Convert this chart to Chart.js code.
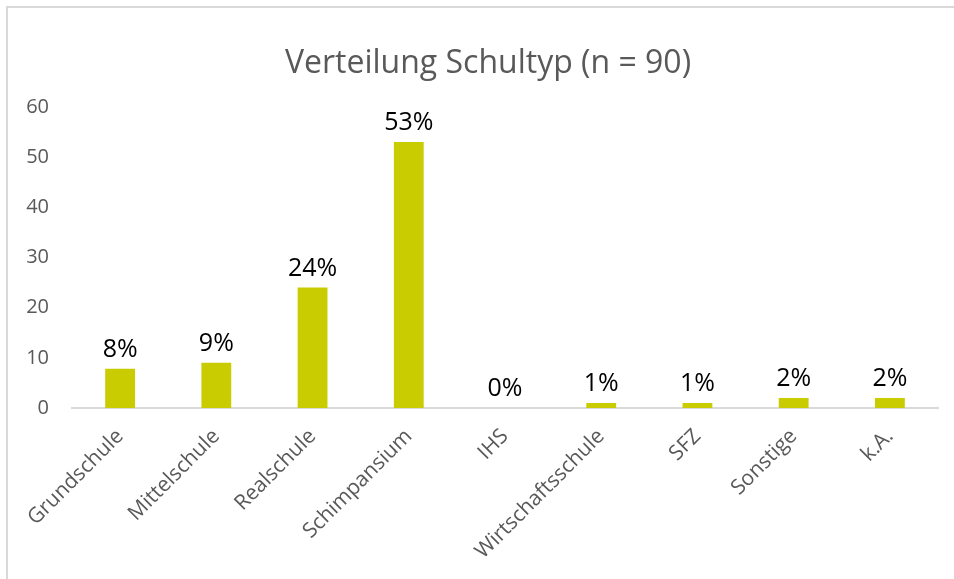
<!DOCTYPE html>
<html lang="de">
<head>
<meta charset="utf-8">
<title>Verteilung Schultyp</title>
<script src="https://cdn.jsdelivr.net/npm/chart.js@4/dist/chart.umd.min.js"></script>
<style>
  html, body { margin: 0; padding: 0; background: #fff; overflow: hidden; }
  .frame {
    position: absolute; left: 6px; top: 6px; width: 980px; height: 600px;
    border-left: 2px solid #d9d9d9; border-top: 2px solid #d9d9d9;
  }
  .wrap { position: absolute; left: 0; top: 0; width: 954px; height: 579px; }
</style>
</head>
<body>
<div class="frame"></div>
<div class="wrap"><canvas id="chart" width="954" height="579"></canvas></div>
<script>
const chartTitle = 'Verteilung Schultyp (n = 90)';
const categories = ['Grundschule', 'Mittelschule', 'Realschule', 'Schimpansium', 'IHS', 'Wirtschaftsschule', 'SFZ', 'Sonstige', 'k.A.'];
const shares = [7.8, 9, 24, 53, 0, 1, 1, 2, 2];
const yTicks = [0, 10, 20, 30, 40, 50, 60];

const fontFamily = '"Open Sans", "DejaVu Sans", sans-serif';

// title sits a little right of the canvas centre, like in the original
const titleText = {
  id: 'titleText',
  afterDraw(chart) {
    const ctx = chart.ctx;
    ctx.save();
    ctx.fillStyle = '#595959';
    ctx.font = `32px ${fontFamily}`;
    ctx.textAlign = 'center';
    ctx.textBaseline = 'alphabetic';
    ctx.fillText(chartTitle, 488, 73);
    ctx.restore();
  },
};

// draws the percentage labels above each bar
const barLabels = {
  id: 'barLabels',
  afterDatasetsDraw(chart) {
    const ctx = chart.ctx;
    const meta = chart.getDatasetMeta(0);
    ctx.save();
    ctx.fillStyle = '#000';
    ctx.font = `25px ${fontFamily}`;
    ctx.textAlign = 'center';
    ctx.textBaseline = 'alphabetic';
    meta.data.forEach((bar, i) => {
      ctx.fillText(`${Math.round(shares[i])}%`, bar.x, bar.y - 12);
    });
    ctx.restore();
  },
};

new Chart(document.getElementById('chart'), {
  type: 'bar',
  data: {
    labels: categories,
    datasets: [
      {
        data: shares,
        backgroundColor: '#c8cc00',
        categoryPercentage: 1,
        barPercentage: 0.31,
      },
    ],
  },
  options: {
    responsive: false,
    animation: false,
    layout: { padding: { left: 10, right: 16, top: 107, bottom: 0 } },
    plugins: {
      legend: { display: false },
      tooltip: { enabled: false },
      title: { display: false },
    },
    scales: {
      x: {
        grid: { display: false, drawTicks: false },
        border: { display: true, color: '#d9d9d9', width: 2 },
        ticks: {
          color: '#595959',
          font: { family: fontFamily, size: 21 },
          maxRotation: 45,
          minRotation: 45,
          padding: 16,
        },
        afterFit(scale) {
          scale.height = 171;
        },
      },
      y: {
        min: 0,
        max: 60,
        afterBuildTicks(scale) {
          scale.ticks = yTicks.map((value) => ({ value }));
        },
        grid: { display: false, drawTicks: false },
        border: { display: false },
        ticks: {
          color: '#595959',
          font: { family: fontFamily, size: 20 },
          padding: 23,
        },
        afterFit(scale) {
          scale.width = 62;
        },
      },
    },
  },
  plugins: [barLabels, titleText],
});
</script>
</body>
</html>
